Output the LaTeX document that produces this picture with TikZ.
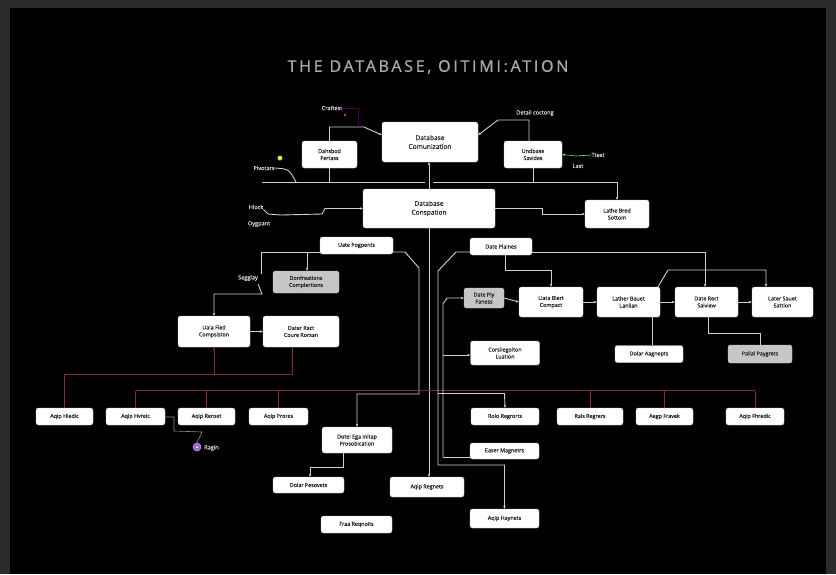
\documentclass[tikz,border=0pt]{standalone}
\usepackage{fontspec}
\setmainfont{Open Sans}
\newfontfamily\titlefont[LetterSpace=17,FakeBold=1.2]{Open Sans}
\newfontfamily\boxfont[FakeBold=0.6]{Open Sans}
\usetikzlibrary{arrows.meta,calc}
\definecolor{framegray}{HTML}{2B2B2B}
\definecolor{lncol}{HTML}{CFCFCF}
\definecolor{maroon}{HTML}{82283C}
\definecolor{lblcol}{HTML}{D4D4D4}
\definecolor{boxtext}{HTML}{262626}
\definecolor{gfill}{HTML}{C6C6C6}
\definecolor{purpdot}{HTML}{9A5FD0}
\begin{document}
\begin{tikzpicture}[x=1pt,y=-1pt,
  box/.style={draw=white!80!black, fill=white, rounded corners=2.5pt, inner sep=1pt, align=center,
    text=boxtext, font=\boxfont\fontsize{5.4}{7}\selectfont, line width=0.4pt},
  bigbox/.style={box, font=\boxfont\fontsize{6.6}{8.8}\selectfont},
  gbox/.style={box, fill=gfill},
  rowbox/.style={box, minimum height=17pt},
  ln/.style={draw=lncol, line width=0.9pt},
  mr/.style={draw=maroon, line width=1pt},
  arr/.style={-{Stealth[length=3pt,width=2.6pt]}},
  lbl/.style={text=lblcol, font=\boxfont\fontsize{5.6}{6.6}\selectfont, inner sep=0pt},
]
\fill[framegray] (0,0) rectangle (836,574);
\fill[black] (10,8) rectangle (826,574);
\useasboundingbox (0,0) rectangle (836,574);

\node[text=white!66!black, font=\titlefont\fontsize{16}{18}\selectfont] (title) at (428,67) {THE DATABASE, OITIMI:ATION};

% top cluster
\node[bigbox, minimum width=96pt, minimum height=40pt] (comun) at (430,142) {Database\\Comunization};
\node[box, minimum width=55pt, minimum height=27pt] (dehs) at (329.5,154.5) {Dahsbod\\Fertass};
\node[box, minimum width=58pt, minimum height=27pt] (undb) at (533,154.5) {Undbase\\Savides};
\node[bigbox, minimum width=132pt, minimum height=39pt] (consp) at (429,208.5) {Database\\Conspation};
\node[box, minimum width=64pt, minimum height=28pt] (lathe) at (617,214) {Lathe Bred\\Sottom};

% second level
\node[box, minimum width=73pt, minimum height=17pt] (uate) at (356.5,245.5) {Uate Pogpents};
\node[box, minimum width=62pt, minimum height=17pt] (datep) at (501,246.5) {Date Plaines};
\node[gbox, minimum width=66pt, minimum height=22pt] (gonf) at (306,282) {Donfreations\\Complertions};
\node[box, minimum width=72pt, minimum height=31pt] (uala) at (214,331.5) {Uala Fied\\Compsiston};
\node[box, minimum width=76pt, minimum height=31pt] (dater) at (301,331.5) {Dater Ract\\Coure Rorsan};

% right cluster
\node[gbox, minimum width=40pt, minimum height=20pt] (dply) at (484,298) {Date Ply\\Faness};
\node[box, minimum width=64pt, minimum height=30pt] (lida) at (551,302) {Liata Blert\\Compact};
\node[box, minimum width=63pt, minimum height=30pt] (lather) at (628.5,302) {Lather Bauet\\Lanlian};
\node[box, minimum width=63pt, minimum height=30pt] (rect) at (706.5,302) {Date Rect\\Salview};
\node[box, minimum width=61pt, minimum height=30pt] (later) at (782.5,302) {Later Sauet\\Sattion};
\node[box, minimum width=69pt, minimum height=24pt] (corsl) at (505,353) {Corsliegoiton\\Luation};
\node[box, minimum width=68pt, minimum height=17pt] (dolarA) at (649,354) {Dolar Aagnepts};
\node[gbox, minimum width=64pt, minimum height=18pt] (pallal) at (760,354) {Pallal Paygrets};

% bottom row
\node[rowbox, minimum width=57pt] (hledic) at (64.5,416.5) {Aqip Hledic};
\node[rowbox, minimum width=59pt] (hvreic) at (135.5,416.5) {Aqip Hvreic};
\node[rowbox, minimum width=57pt] (reroet) at (206.5,416.5) {Aqip Reroet};
\node[rowbox, minimum width=59pt] (prores) at (278.5,416.5) {Aqip Prores};
\node[rowbox, minimum width=68pt] (rolo) at (505,416.5) {Rolo Regrorts};
\node[rowbox, minimum width=66pt] (rals) at (590,416.5) {Rals Regrers};
\node[rowbox, minimum width=57pt] (aegp) at (664.5,416.5) {Aegp Fravek};
\node[rowbox, minimum width=58pt] (fhredic) at (755,416.5) {Aqip Fhredic};

% lowest
\node[box, minimum width=70pt, minimum height=26pt] (dotel) at (357,440) {Dotel Ega Initap\\Prosobication};
\node[box, minimum width=71pt, minimum height=16pt] (dolarP) at (308.5,485) {Dolar Pesovets};
\node[box, minimum width=74pt, minimum height=20pt] (aqipR) at (427,487) {Aqip Regnets};
\node[box, minimum width=71pt, minimum height=17pt] (fraa) at (356.5,524.5) {Fraa Reqnoits};
\node[box, minimum width=69pt, minimum height=16pt] (easer) at (504.5,451) {Easer Magnetrs};
\node[box, minimum width=69pt, minimum height=19pt] (aqipH) at (504.5,518.5) {Aqip Haynets};

% free labels
\node[lbl] (craft) at (332,108) {Craftest};
\node[circle, fill=orange!80!red, inner sep=0pt, minimum size=2.4pt] (odot) at (345,115) {};
\node[lbl] (detail) at (535,113) {Detail coctong};
\node[lbl] (pivot) at (264,168) {Pivotars};
\node[circle, fill=yellow!40!white, draw=yellow!70!green, line width=1pt, inner sep=0pt, minimum size=4pt] (ydot) at (280,158) {};
\node[lbl] (ttext) at (598,155) {Ttext};
\node[lbl] (last) at (578,166) {Last};
\node[lbl] (hlock) at (256,207) {Hlock};
\node[lbl] (oyg) at (259,224) {Oygpant};
\node[lbl] (segg) at (248,278) {Segglay};
\node[circle, fill=purpdot, draw=purpdot!60!white, line width=0.6pt, inner sep=0pt, minimum size=8pt] (pdot) at (197,447) {};
\node[circle, fill=white!80!purpdot, inner sep=0pt, minimum size=2.5pt] at (pdot) {};
\node[lbl, anchor=west] (ragin) at (204,448) {Ragin};

% ---- connectors, top
\draw[ln,arr] (dehs.north) -- (329.5,127) -- (364,127) -- (comun.west |- 0,135);
\draw[draw=violet!60!black, line width=0.7pt] (craft.east) -- (358,108) -- (358,127);
\draw[ln,arr] (undb.north -| 529,0) -- (529,120) -- (498,120) -- (comun.east |- 0,135);
\draw[draw=green!45!lncol, line width=0.6pt, arr] (ttext.west) -- (576,156) -- (undb.east);
\draw[ln] (262,182) -- (425,182);
\draw[ln,arr] (433,182) -- (617,182) -- (lathe.north);
\draw[ln] (dehs.south) -- (dehs.south |- 0,182);
\draw[ln] (undb.south) -- (undb.south |- 0,182);
\draw[ln,arr] (consp.north) -- (consp.north |- comun.south);
\draw[ln] (pivot.east) .. controls (289,169) .. (296,182);
\draw[ln,arr] (hlock.south east) -- (268,214) -- (281,215) -- (322,214) -- (325,208.5) -- (consp.west);
\draw[ln,arr] (consp.east) -- (542,208.5) -- (542,214) -- (lathe.west);
\draw[ln,arr] (consp.south) -- (consp.south |- aqipR.north);

% ---- left branch
\draw[ln] (uate.west |- 0,252) -- (261,252) -- (261,274);
\draw[ln,arr] (307,252) -- (gonf.north -| 307,0);
\draw[ln,arr] (segg.east |- 0,284) -- (262,294) -- (214,294) -- (uala.north);
\draw[ln,arr] (uala.east) -- (dater.west);
\draw[ln,arr] (uate.east |- 0,252) -- (405,252) -- (419,268) -- (419,394) -- (357,394) -- (dotel.north);
\draw[ln,arr] (dotel.south -| 343,0) -- (343,467) -- (310,467) -- (dolarP.north -| 310,0);

% ---- maroon buses
\draw[mr] (hledic.north) -- (64.5,374) -- (292,374) -- (dater.south -| 292,0);
\draw[mr,arr] (214,374) -- (uala.south);
\draw[mr] (hvreic.north |- 0,390.5) -- (fhredic.north |- 0,390.5);
\foreach \n in {hvreic,reroet,prores,rals,aegp,fhredic}
  \draw[mr] (\n.north) -- (\n.north |- 0,390.5);

% ---- right branch
\draw[ln,arr] (datep.west |- 0,252) -- (456,252) -- (438,271) -- (438,465) -- (504.5,465) -- (aqipH.north);
\draw[ln,arr] (443,457) -- (443,304) -- (447,298) -- (dply.west);
\draw[ln] (443,457) -- (easer.west |- 0,457);
\draw[ln,arr] (443,355) -- (corsl.west |- 0,355);
\draw[ln,arr] (438,393.5) -- (504.5,393.5) -- (rolo.north);
\draw[ln,arr] (datep.south -| 505,0) -- (505,270) -- (551,270) -- (lida.north);
\draw[ln,arr] (datep.east |- 0,252) -- (705,252) -- (rect.north -| 705,0);
\draw[ln,arr] (lather.north -| 658,0) -- (668,270) -- (766,270) -- (later.north -| 766,0);
\draw[ln,arr] (dply.east) -- (lida.west);
\draw[ln,arr] (lida.east) -- (lather.west);
\draw[ln,arr] (lather.east) -- (rect.west);
\draw[ln,arr] (rect.east) -- (later.west);
\draw[ln] (lather.south -| 652,0) -- (dolarA.north -| 652,0);
\draw[ln] (rect.south -| 708,0) -- (708,333) -- (760,333) -- (pallal.north);

% ---- ragin
\draw[draw=lncol!70!black, line width=0.6pt] (hvreic.east |- 0,417) -- (174,417) -- (174,431) -- (202,432) -- (pdot.north);
\end{tikzpicture}
\end{document}
